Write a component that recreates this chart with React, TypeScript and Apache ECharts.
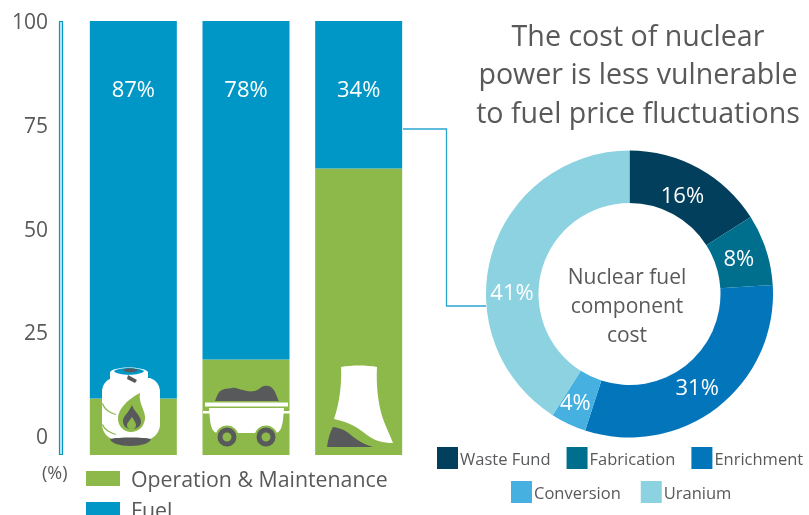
import React, { useEffect, useRef } from "react";
import * as echarts from "echarts";

const plants = ["Gas", "Coal", "Nuclear"];
const omValues = [13, 22, 66];
const fuelValues = [87, 78, 34];
const tickLabels = [0, 25, 50, 75, 100];
const fuelParts = ["Waste Fund", "Fabrication", "Enrichment", "Conversion", "Uranium"];
const fuelPartValues = [16, 8, 31, 4, 41];
const fuelPartColors = ["#023f5c", "#006f8e", "#0275bb", "#46b1e1", "#8dd2e0"];

const GREEN = "#8db84a";
const BLUE = "#0097c7";
const INK = "#58595b";
const FONT = "'Open Sans', 'Noto Sans', sans-serif";

const iconShapes: Record<string, string> = {
  gasBody:
    "M112 378 C106 380 102 385 102 392 L102 424 C102 431 106 437 114 440 L148 440 C156 437 160 431 160 424 L160 392 C160 385 156 380 150 378 Z",
  gasBands:
    "M102 404 C104 410 109 413 116 415 L116 414 C110 412 105 409 103 403 Z M102 425 C104 430 109 433 116 435 L116 434 C110 432 105 429 103 424 Z",
  gasCollar: "M110 372 C114 366 144 366 148 372 L148 381 C144 385 114 385 110 381 Z",
  gasLens: "M114 371 C119 367 139 367 144 371 C141 376 117 376 114 371 Z",
  gasValve: "M123 370 C126 368 135 368 138 370 C135 373 126 373 123 370 Z M128 375 L137 380 L135 383 L127 379 Z",
  gasBase: "M110 439 C118 437 143 437 151 439 C150 443 142 446 130 446 C119 446 111 443 110 439 Z",
  gasFlame: "M140 393 C138 403 146 411 145 419 C144 427 138 432 131 432 C124 432 118 426 118 419 C118 408 130 398 140 393 Z",
  gasFlameDark: "M132 405 C134 412 141 415 141 422 C141 426 137 429 132 429 C126 429 123 426 123 421 C123 416 128 414 132 405 Z",
  gasFlameInner: "M132 417 C134 420 136 423 136 425 C136 428 134 429 132 429 C129 429 127 428 127 425 C127 423 130 420 132 417 Z",
  coal:
    "M215 401 C217 396 218 392 222 390 C226 388 228 389 232 388 C236 387 239 390 243 390 C247 391 250 392 254 391 C258 391 260 387 264 386 C268 385 271 386 273 389 C276 392 276 396 279 401 Z",
  cartRim: "M205 402.5 L288 402.5 L288 406.5 L205 406.5 Z",
  cartBody:
    "M209 408 L284 408 L283 420 C282 428 280 432 276 433 L217 433 C213 432 211 428 210 420 Z M203 411 L213 411 L213 413.5 L203 413.5 Z M280 411 L290 411 L290 413.5 L280 413.5 Z",
  wheelGap:
    "M215.5 437 A11.5 11.5 0 1 0 238.5 437 A11.5 11.5 0 1 0 215.5 437 Z M254.5 437 A11.5 11.5 0 1 0 277.5 437 A11.5 11.5 0 1 0 254.5 437 Z",
  wheelRing:
    "M217.5 437 A9.5 9.5 0 1 0 236.5 437 A9.5 9.5 0 1 0 217.5 437 Z M256.5 437 A9.5 9.5 0 1 0 275.5 437 A9.5 9.5 0 1 0 256.5 437 Z",
  wheelHub:
    "M222.5 437 A4.5 4.5 0 1 0 231.5 437 A4.5 4.5 0 1 0 222.5 437 Z M261.5 437 A4.5 4.5 0 1 0 270.5 437 A4.5 4.5 0 1 0 261.5 437 Z",
  tower:
    "M341 367 C352 365 366 365 377 367 C376 385 378 402 382 416 C385 425 390 435 393 443 C383 443 375 441 367 435 C357 427 351 423 334 419 C339 405 342 385 341 367 Z",
  mound: "M327 447 C328 439 330 432 333 427 C341 428 347 431 352 436 C358 441 366 445 373 447 Z",
};
Object.keys(iconShapes).forEach((name) => {
  echarts.graphic.registerShape(name, echarts.graphic.extendPath(iconShapes[name], {}));
});

const iconLayers: [string, string][] = [
  ["gasBody", "#ffffff"],
  ["gasBands", GREEN],
  ["gasCollar", "#ffffff"],
  ["gasLens", BLUE],
  ["gasValve", INK],
  ["gasBase", INK],
  ["gasFlame", GREEN],
  ["gasFlameDark", INK],
  ["gasFlameInner", GREEN],
  ["coal", INK],
  ["cartRim", "#ffffff"],
  ["cartBody", "#ffffff"],
  ["wheelGap", GREEN],
  ["wheelRing", INK],
  ["wheelHub", GREEN],
  ["tower", "#ffffff"],
  ["mound", INK],
];

export default function App() {
  const ref = useRef<HTMLDivElement>(null);
  useEffect(() => {
    const chart = echarts.init(ref.current!, undefined, { renderer: "svg" });
    chart.setOption({
      animation: false,
      textStyle: { fontFamily: FONT },
      title: {
        text: "The cost of nuclear\npower is less vulnerable\nto fuel price fluctuations",
        left: 633,
        top: 10,
        textAlign: "center",
        textStyle: { fontFamily: FONT, fontSize: 28.6, fontWeight: "normal", color: INK, lineHeight: 38.5 },
      },
      grid: [
        { left: 77, top: 21, width: 338, height: 434 },
        { left: 56, top: 21, width: 4, height: 415 },
      ],
      xAxis: [
        { type: "category", gridIndex: 0, data: plants, show: false },
        { type: "category", gridIndex: 1, data: plants, show: false },
      ],
      yAxis: [
        { type: "value", gridIndex: 0, min: 0, max: 100, show: false },
        {
          type: "value",
          gridIndex: 1,
          min: 0,
          max: 100,
          interval: 25,
          axisLine: { show: false },
          axisTick: { show: false },
          splitLine: { show: false },
          axisLabel: {
            margin: 8,
            color: INK,
            fontSize: 21,
            fontFamily: FONT,
            formatter: (v: number) => (tickLabels.includes(v) ? String(v) : ""),
          },
        },
      ],
      legend: [
        {
          data: ["Operation & Maintenance"],
          left: 86,
          top: 468,
          padding: 0,
          itemWidth: 34,
          itemHeight: 15,
          icon: "rect",
          textStyle: { color: INK, fontSize: 21.3, fontFamily: FONT, padding: [0, 0, 0, 6] },
        },
        {
          data: ["Fuel"],
          left: 86,
          top: 499,
          padding: 0,
          itemWidth: 34,
          itemHeight: 15,
          icon: "rect",
          textStyle: { color: INK, fontSize: 21.3, fontFamily: FONT, padding: [0, 0, 0, 6] },
        },
        {
          data: fuelParts.slice(0, 3),
          left: 437,
          top: 447,
          padding: 0,
          itemWidth: 21,
          itemHeight: 22,
          itemGap: 16,
          icon: "rect",
          textStyle: { color: INK, fontSize: 16.5, fontFamily: FONT, padding: [0, 0, 0, -3] },
        },
        {
          data: fuelParts.slice(3),
          left: 511,
          top: 481,
          padding: 0,
          itemWidth: 21,
          itemHeight: 22,
          itemGap: 20,
          icon: "rect",
          textStyle: { color: INK, fontSize: 16.5, fontFamily: FONT, padding: [0, 0, 0, -3] },
        },
      ],
      series: [
        {
          name: "Operation & Maintenance",
          type: "bar",
          stack: "total",
          barWidth: 87,
          data: omValues,
          itemStyle: { color: GREEN },
          silent: true,
        },
        {
          name: "Fuel",
          type: "bar",
          stack: "total",
          barWidth: 87,
          data: fuelValues,
          itemStyle: { color: BLUE },
          silent: true,
          label: {
            show: true,
            position: "insideTop",
            distance: 56,
            formatter: "{c}%",
            color: "#ffffff",
            fontSize: 22,
            fontFamily: FONT,
          },
        },
        {
          type: "pie",
          name: "Nuclear fuel component cost",
          center: [629.5, 294],
          radius: [91, 143.5],
          startAngle: 90,
          clockwise: true,
          silent: true,
          data: fuelParts.map((name, i) => ({
            name,
            value: fuelPartValues[i],
            itemStyle: { color: fuelPartColors[i] },
          })),
          label: {
            show: true,
            position: "inside",
            formatter: "{c}%",
            color: "#ffffff",
            fontSize: 22,
            fontFamily: FONT,
          },
          labelLine: { show: false },
          labelLayout: (p: any) => {
            const shifts = [[-5, 5], [-5, 0], [-6, -3], [-3, -2], [-2, 31]];
            const s = shifts[p.dataIndex];
            return { dx: s[0], dy: s[1] };
          },
        },
      ],
      graphic: [
        {
          type: "rect",
          silent: true,
          shape: { x: 59.5, y: 21.5, width: 3, height: 433 },
          style: { fill: "#cfeaf3", stroke: BLUE, lineWidth: 1.2 },
        },
        {
          type: "polyline",
          silent: true,
          shape: { points: [[403, 129], [446.5, 129], [446.5, 306], [486, 306]] },
          style: { fill: "none", stroke: "#2aa5cf", lineWidth: 1.3 },
        },
        {
          type: "text",
          silent: true,
          x: 42,
          y: 463,
          style: { text: "(%)", fill: INK, fontSize: 18, fontFamily: FONT },
        },
        {
          type: "text",
          silent: true,
          x: 627,
          y: 261,
          style: {
            text: "Nuclear fuel\ncomponent\ncost",
            fill: INK,
            fontSize: 21,
            fontFamily: FONT,
            lineHeight: 29,
            align: "center",
          },
        },
        ...iconLayers.map(([type, fill]) => ({
          type,
          silent: true,
          x: 0,
          y: 0,
          z: 10,
          style: { fill },
        })),
      ],
    });
    return () => chart.dispose();
  }, []);
  return <div ref={ref} style={{ position: "fixed", left: 0, top: 0, width: 809, height: 515 }} />;
}
